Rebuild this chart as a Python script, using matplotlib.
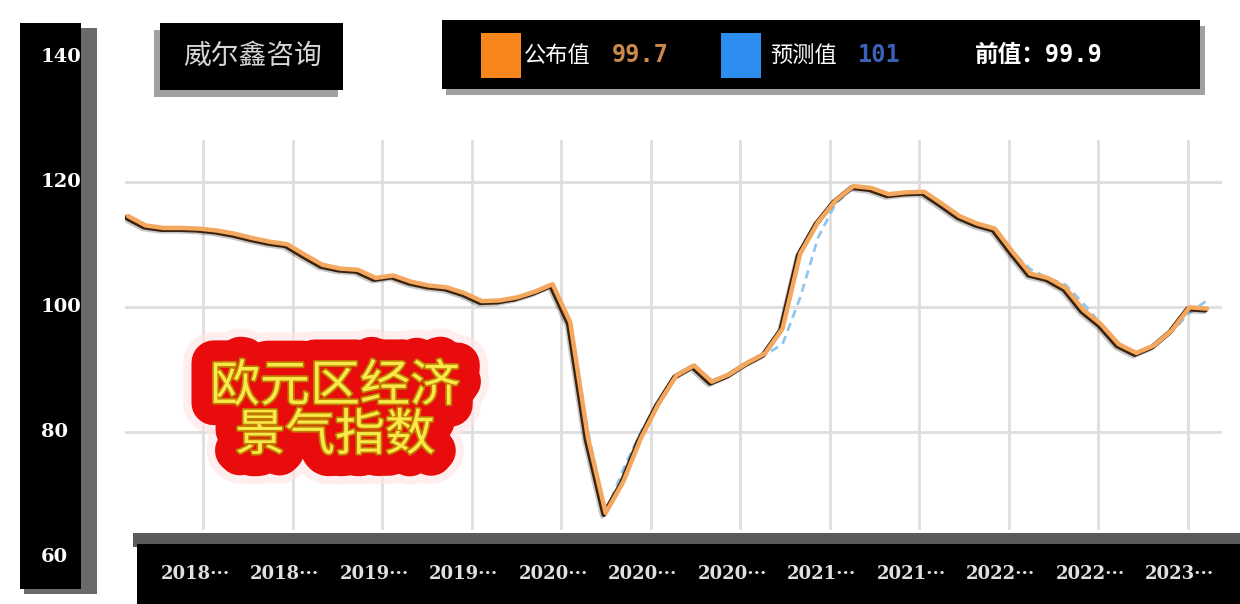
import numpy as np
import matplotlib
matplotlib.use('Agg')
import matplotlib.pyplot as plt
import matplotlib.patheffects as pe
from matplotlib.patches import Rectangle
from matplotlib.transforms import blended_transform_factory

plt.rcParams['font.family'] = ['Noto Sans CJK SC', 'DejaVu Sans']

# Euro area economic sentiment, monthly, Jan 2018 .. Feb 2023
published = [114.5, 113.0, 112.6, 112.6, 112.5, 112.2, 111.7, 111.0, 110.4, 110.0, 108.3, 106.7,
             106.1, 105.9, 104.6, 105.0, 104.0, 103.4, 103.1, 102.2, 100.9, 101.0, 101.5, 102.4,
             103.6, 97.5, 79.0, 67.0, 72.0, 79.0, 84.5, 89.0, 90.6, 88.0, 89.2, 91.0,
             92.5, 96.5, 108.5, 113.5, 117.0, 119.3, 119.0, 118.0, 118.3, 118.4, 116.5, 114.5,
             113.3, 112.5, 108.8, 105.3, 104.6, 103.0, 99.5, 97.2, 94.0, 92.6, 93.8, 96.2,
             99.9, 99.7]
forecast = [114.5, 113.0, 112.6, 112.6, 112.5, 112.2, 111.7, 111.0, 110.4, 110.0, 108.3, 106.7,
            106.1, 105.9, 104.6, 105.0, 104.0, 103.4, 103.1, 102.2, 100.9, 101.0, 101.5, 102.4,
            103.6, 97.5, 80.0, 67.0, 74.0, 80.0, 85.0, 89.0, 90.6, 88.2, 89.2, 91.0,
            92.3, 94.0, 101.5, 111.0, 116.5, 119.0, 119.0, 118.0, 118.3, 118.4, 116.5, 114.5,
            113.3, 112.5, 108.8, 106.0, 104.6, 103.5, 100.5, 97.2, 94.0, 92.6, 93.8, 96.0,
            99.0, 101.0]
latest = 99.7
expected = 101
previous = 99.9

y_ticks = [140, 120, 100, 80, 60]
x_labels = ['2018', '2018', '2019', '2019', '2020', '2020',
            '2020', '2021', '2021', '2022', '2022', '2023']

W, H = 1240, 604
fig = plt.figure(figsize=(W / 100, H / 100), dpi=100)
fig.patch.set_facecolor('white')

# plot area, pixel layout -> data scale (6.25 px per unit, 17.69 px per month)
ax = fig.add_axes([125 / W, 1 - 530 / H, (1222 - 125) / W, (530 - 140) / H])
ax.set_xlim(-0.17, 61.84)
ax.set_ylim(120 - (530 - 181.7) / 6.25, 120 + (181.7 - 140) / 6.25)
for s in ax.spines.values():
    s.set_visible(False)
ax.set_xticks([]); ax.set_yticks([])

tick_pos = np.linspace(4.24, 59.9, len(x_labels))
for t in tick_pos:
    ax.axvline(t, color='#dedede', lw=2, zorder=0)
for v in y_ticks:
    ax.axhline(v, color='#dedede', lw=2, zorder=0)

x = np.arange(len(published))
ax.plot(x, forecast, color='#8fc6ee', lw=2, ls=(0, (3, 2)), zorder=2)
ax.plot(x, published, color='#f4a75e', lw=3.2, solid_joinstyle='round', solid_capstyle='round',
        zorder=3,
        path_effects=[pe.SimpleLineShadow(offset=(-2.5, -2.5), shadow_color='black', alpha=0.22),
                      pe.Stroke(linewidth=3.6, foreground='#3b220c', offset=(-1.3, -1.1)),
                      pe.Normal()])

# decoration layer in pixel coordinates
deco = fig.add_axes([0, 0, 1, 1], zorder=5)
deco.set_xlim(0, W); deco.set_ylim(H, 0)
deco.axis('off')
deco.patch.set_alpha(0)

def box(x0, y0, x1, y1, color, **kw):
    deco.add_patch(Rectangle((x0, y0), x1 - x0, y1 - y0, color=color, lw=0, **kw))

# left value bar
box(24, 28, 97, 594, '#6a6a6a')
box(20, 23, 81, 589, 'black')
yt = blended_transform_factory(deco.transData, ax.transData)
for v in y_ticks:
    deco.text(41, v, str(v), transform=yt, color='white', fontsize=14, fontweight='bold',
              family='DejaVu Serif', ha='left', va='center')

# title box
box(154, 30, 338, 97, '#8a8a8a', alpha=0.8)
box(160, 23, 343, 90, 'black')
deco.text(252, 56, '威尔鑫咨询', color='#d6d6d6', fontsize=20, ha='center', va='center')

# legend box
box(446, 26, 1205, 95, '#8a8a8a', alpha=0.8)
box(442, 20, 1200, 89, 'black')
box(481, 33, 521, 78, '#f7861c')
deco.text(524, 55, '公布值', color='white', fontsize=16, ha='left', va='center')
deco.text(612, 55, f'{latest:.1f}', color='#c98a4b', fontsize=17, fontweight='bold',
          family='DejaVu Sans Mono', ha='left', va='center')
box(721, 33, 761, 78, '#2d8ef0')
deco.text(770, 55, '预测值', color='white', fontsize=16, ha='left', va='center')
deco.text(858, 55, f'{expected}', color='#3c62b8', fontsize=17, fontweight='bold',
          family='DejaVu Sans Mono', ha='left', va='center')
deco.text(975, 55, f'前值：{previous:.1f}', color='white', fontsize=17, fontweight='bold',
          family=['DejaVu Sans Mono', 'Noto Sans CJK SC'], ha='left', va='center')

# bottom date bar
box(133, 533, 1240, 547, '#5a5a5a')
box(137, 544, 1240, 604, 'black')
xt = blended_transform_factory(ax.transData, deco.transData)
for t, lab in zip(tick_pos, x_labels):
    deco.text(t - 0.45, 574, lab + '\u00b7\u00b7\u00b7', transform=xt, color='#e0e0e0',
              fontsize=13, fontweight='bold', family='DejaVu Serif', ha='center', va='center')

# red callout, drawn layer by layer so the glow of one line does not cover the other
lines = [('欧元区经济', 387), ('景气指数', 436)]
layers = [dict(color='none', path_effects=[pe.Stroke(linewidth=44, foreground='#ffe4e4', alpha=0.6)]),
          dict(color='none', path_effects=[pe.Stroke(linewidth=32, foreground='#e80c0c')]),
          dict(color='#f8e84a', path_effects=[pe.Stroke(linewidth=2.5, foreground='#c07a00'),
                                              pe.Normal()])]
for z, layer in enumerate(layers):
    for txt, yy in lines:
        deco.text(335, yy, txt, fontsize=36, ha='center', va='center', zorder=10 + z, **layer)

fig.savefig('out.png', dpi=100)
